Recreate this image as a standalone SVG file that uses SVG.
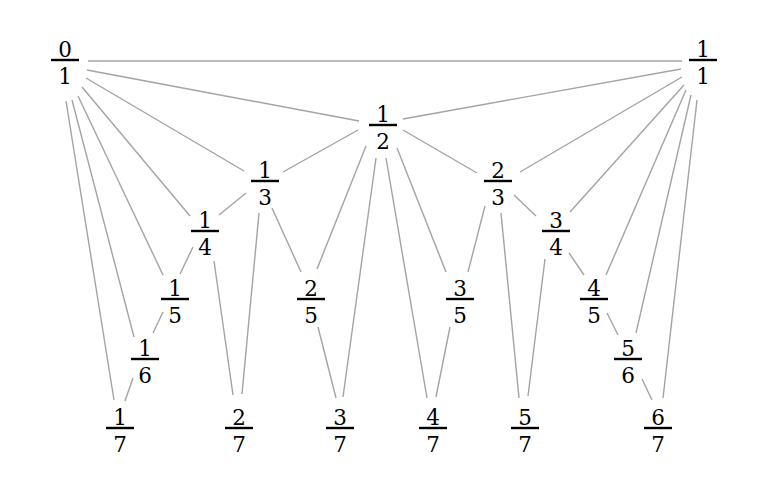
<svg xmlns="http://www.w3.org/2000/svg" width="766" height="477" viewBox="0 0 766 477">
<style>
.e{stroke:#a3a3a3;stroke-width:1.4;fill:none;stroke-linecap:butt}
.t{font-family:"DejaVu Serif","Liberation Serif",serif;font-size:21.5px;fill:#000;text-anchor:middle}
.b{fill:#000}
</style>
<rect width="766" height="477" fill="#fff"/>
<g id="edges" class="e">
<line x1="88" y1="61" x2="682" y2="61"/>
<line x1="87" y1="70" x2="359" y2="121"/>
<line x1="681" y1="69" x2="403" y2="119"/>
<line x1="86" y1="78" x2="244" y2="171"/>
<line x1="358" y1="130" x2="283" y2="172"/>
<line x1="403" y1="130" x2="477" y2="173"/>
<line x1="682" y1="77" x2="520" y2="172"/>
<line x1="82" y1="87" x2="190" y2="216"/>
<line x1="246" y1="193" x2="219" y2="215"/>
<line x1="514" y1="195" x2="536" y2="216"/>
<line x1="684" y1="85" x2="570" y2="212"/>
<line x1="78" y1="96" x2="163" y2="275"/>
<line x1="193" y1="247" x2="180" y2="274"/>
<line x1="272" y1="208" x2="301" y2="272"/>
<line x1="366" y1="146" x2="317" y2="269"/>
<line x1="397" y1="148" x2="446" y2="272"/>
<line x1="485" y1="206" x2="468" y2="272"/>
<line x1="569" y1="253" x2="584" y2="275"/>
<line x1="686" y1="90" x2="606" y2="275"/>
<line x1="72" y1="100" x2="134" y2="337"/>
<line x1="163" y1="312" x2="153" y2="333"/>
<line x1="607" y1="313" x2="618" y2="335"/>
<line x1="691" y1="95" x2="636" y2="333"/>
<line x1="66" y1="101" x2="114" y2="400"/>
<line x1="133" y1="378" x2="125" y2="401"/>
<line x1="214" y1="261" x2="233" y2="395"/>
<line x1="259" y1="213" x2="242" y2="394"/>
<line x1="318" y1="327" x2="336" y2="398"/>
<line x1="376" y1="158" x2="343" y2="397"/>
<line x1="386" y1="158" x2="427" y2="398"/>
<line x1="450" y1="327" x2="436" y2="397"/>
<line x1="501" y1="213" x2="519" y2="398"/>
<line x1="545" y1="259" x2="528" y2="396"/>
<line x1="642" y1="379" x2="652" y2="400"/>
<line x1="697" y1="100" x2="663" y2="398"/>
</g>
<g id="n0_1" transform="translate(65,60)"><rect class="b" x="-14" y="-1.2" width="28" height="2.4"/><text class="t" y="-3.5">0</text><text class="t" y="24">1</text></g>
<g id="n1_1" transform="translate(703,60)"><rect class="b" x="-14" y="-1.2" width="28" height="2.4"/><text class="t" y="-3.5">1</text><text class="t" y="24">1</text></g>
<g id="n1_2" transform="translate(383,125)"><rect class="b" x="-14" y="-1.2" width="28" height="2.4"/><text class="t" y="-3.5">1</text><text class="t" y="24">2</text></g>
<g id="n1_3" transform="translate(265,181)"><rect class="b" x="-14" y="-1.2" width="28" height="2.4"/><text class="t" y="-3.5">1</text><text class="t" y="24">3</text></g>
<g id="n2_3" transform="translate(498,181)"><rect class="b" x="-14" y="-1.2" width="28" height="2.4"/><text class="t" y="-3.5">2</text><text class="t" y="24">3</text></g>
<g id="n1_4" transform="translate(205,231)"><rect class="b" x="-14" y="-1.2" width="28" height="2.4"/><text class="t" y="-3.5">1</text><text class="t" y="24">4</text></g>
<g id="n3_4" transform="translate(556,231)"><rect class="b" x="-14" y="-1.2" width="28" height="2.4"/><text class="t" y="-3.5">3</text><text class="t" y="24">4</text></g>
<g id="n1_5" transform="translate(175,299)"><rect class="b" x="-14" y="-1.2" width="28" height="2.4"/><text class="t" y="-3.5">1</text><text class="t" y="24">5</text></g>
<g id="n2_5" transform="translate(311,299)"><rect class="b" x="-14" y="-1.2" width="28" height="2.4"/><text class="t" y="-3.5">2</text><text class="t" y="24">5</text></g>
<g id="n3_5" transform="translate(460,299)"><rect class="b" x="-14" y="-1.2" width="28" height="2.4"/><text class="t" y="-3.5">3</text><text class="t" y="24">5</text></g>
<g id="n4_5" transform="translate(594,299)"><rect class="b" x="-14" y="-1.2" width="28" height="2.4"/><text class="t" y="-3.5">4</text><text class="t" y="24">5</text></g>
<g id="n1_6" transform="translate(145,359)"><rect class="b" x="-14" y="-1.2" width="28" height="2.4"/><text class="t" y="-3.5">1</text><text class="t" y="24">6</text></g>
<g id="n5_6" transform="translate(628,359)"><rect class="b" x="-14" y="-1.2" width="28" height="2.4"/><text class="t" y="-3.5">5</text><text class="t" y="24">6</text></g>
<g id="n1_7" transform="translate(120,428)"><rect class="b" x="-14" y="-1.2" width="28" height="2.4"/><text class="t" y="-3.5">1</text><text class="t" y="24">7</text></g>
<g id="n2_7" transform="translate(239,428)"><rect class="b" x="-14" y="-1.2" width="28" height="2.4"/><text class="t" y="-3.5">2</text><text class="t" y="24">7</text></g>
<g id="n3_7" transform="translate(340,428)"><rect class="b" x="-14" y="-1.2" width="28" height="2.4"/><text class="t" y="-3.5">3</text><text class="t" y="24">7</text></g>
<g id="n4_7" transform="translate(433,428)"><rect class="b" x="-14" y="-1.2" width="28" height="2.4"/><text class="t" y="-3.5">4</text><text class="t" y="24">7</text></g>
<g id="n5_7" transform="translate(525,428)"><rect class="b" x="-14" y="-1.2" width="28" height="2.4"/><text class="t" y="-3.5">5</text><text class="t" y="24">7</text></g>
<g id="n6_7" transform="translate(658,428)"><rect class="b" x="-14" y="-1.2" width="28" height="2.4"/><text class="t" y="-3.5">6</text><text class="t" y="24">7</text></g>
</svg>
